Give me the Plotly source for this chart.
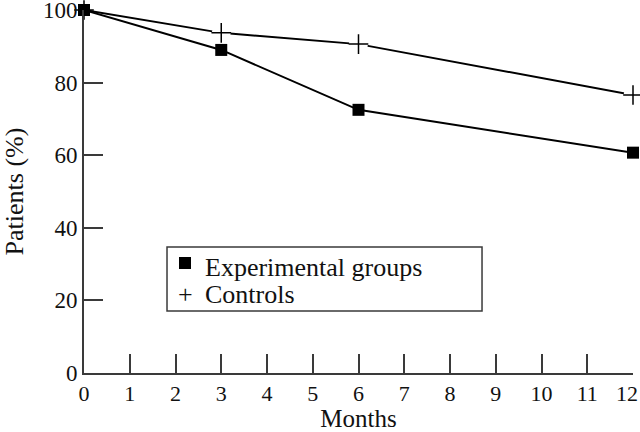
import plotly.graph_objects as go

months = [0, 3, 6, 12]
experimental = [100, 89, 72.5, 60.7]
controls = [100, 93.7, 90.6, 76.6]
x_ticks = list(range(0, 13))
x_tick_text = [str(v) for v in x_ticks[:-1]] + [""]
last_x_label = str(x_ticks[-1])
y_ticks = [0, 20, 40, 60, 80, 100]
legend_names = ["Experimental groups", "Controls"]

FONT = "Liberation Serif"
AXC = "#3a3a3a"

fig = go.Figure()
# lines
fig.add_trace(go.Scatter(x=months, y=controls, mode="lines", name=legend_names[1],
                         line=dict(color="black", width=2), showlegend=False))
fig.add_trace(go.Scatter(x=months, y=experimental, mode="lines", name=legend_names[0],
                         line=dict(color="black", width=2), showlegend=False))
# white halo around the plus markers (line stops short of the plus)
fig.add_trace(go.Scatter(x=months, y=controls, mode="markers", hoverinfo="skip",
                         marker=dict(symbol="circle", size=19, color="white",
                                     opacity=[0, 1, 1, 1]),
                         showlegend=False, cliponaxis=False))
fig.add_trace(go.Scatter(x=months, y=controls, mode="markers", name=legend_names[1],
                         marker=dict(symbol="cross-thin", size=14, color="black",
                                     line=dict(color="black", width=1.5)),
                         showlegend=False, cliponaxis=False))
fig.add_trace(go.Scatter(x=months, y=experimental, mode="markers", name=legend_names[0],
                         marker=dict(symbol="square", size=12, color="black"),
                         showlegend=False, cliponaxis=False))

# custom legend box (paper coordinates)
fig.add_shape(type="rect", xref="paper", yref="paper",
              x0=0.1512, x1=0.725, y0=0.1708, y1=0.347,
              line=dict(color=AXC, width=1.5), fillcolor="white", layer="above")
fig.add_shape(type="rect", xref="paper", yref="paper",
              x0=0.173, x1=0.1949, y0=0.2865, y1=0.3196,
              line=dict(width=0), fillcolor="black", layer="above")
fig.add_annotation(xref="paper", yref="paper", x=0.2168, y=0.2893,
                   xanchor="left", yanchor="middle", showarrow=False,
                   text=legend_names[0], font=dict(family=FONT, size=26, color="#111"))
fig.add_annotation(xref="paper", yref="paper", x=0.1849, y=0.2149,
                   xanchor="center", yanchor="middle", showarrow=False,
                   text="+", font=dict(family=FONT, size=26, color="#111"))
fig.add_annotation(xref="paper", yref="paper", x=0.2168, y=0.2149,
                   xanchor="left", yanchor="middle", showarrow=False,
                   text=legend_names[1], font=dict(family=FONT, size=26, color="#111"))
# last x tick label, nudged left so it stays inside the picture
fig.add_annotation(xref="paper", yref="paper", x=1, y=0, yshift=-20, xshift=7,
                   xanchor="right", yanchor="middle", showarrow=False,
                   text=last_x_label, font=dict(family=FONT, size=22, color="#111"))

fig.update_layout(
    width=640, height=432,
    margin=dict(l=84, r=7, t=10, b=59, autoexpand=False),
    paper_bgcolor="white", plot_bgcolor="white",
    font=dict(family=FONT, size=23, color="#111"),
    showlegend=False,
    xaxis=dict(range=[0, 12], tickvals=x_ticks, ticktext=x_tick_text,
               ticks="inside", ticklen=19,
               tickwidth=2, tickcolor=AXC, showline=True, linecolor=AXC,
               linewidth=2, showgrid=False, zeroline=False,
               ticklabelstandoff=0, ticklabeloverflow="allow",
               title=dict(text="Months", standoff=12, font=dict(family=FONT, size=25)),
               tickfont=dict(family=FONT, size=22)),
    yaxis=dict(range=[0, 100], tickvals=y_ticks, ticks="inside", ticklen=19,
               tickwidth=2, tickcolor=AXC, showline=True, linecolor=AXC,
               linewidth=2, showgrid=False, zeroline=False,
               ticklabeloverflow="allow",
               title=dict(text="Patients (%)", standoff=19, font=dict(family=FONT, size=26)),
               tickfont=dict(family=FONT, size=23)),
)

fig.write_html("out.html", config={"displayModeBar": False},
               post_script="document.body.style.margin='0';")
